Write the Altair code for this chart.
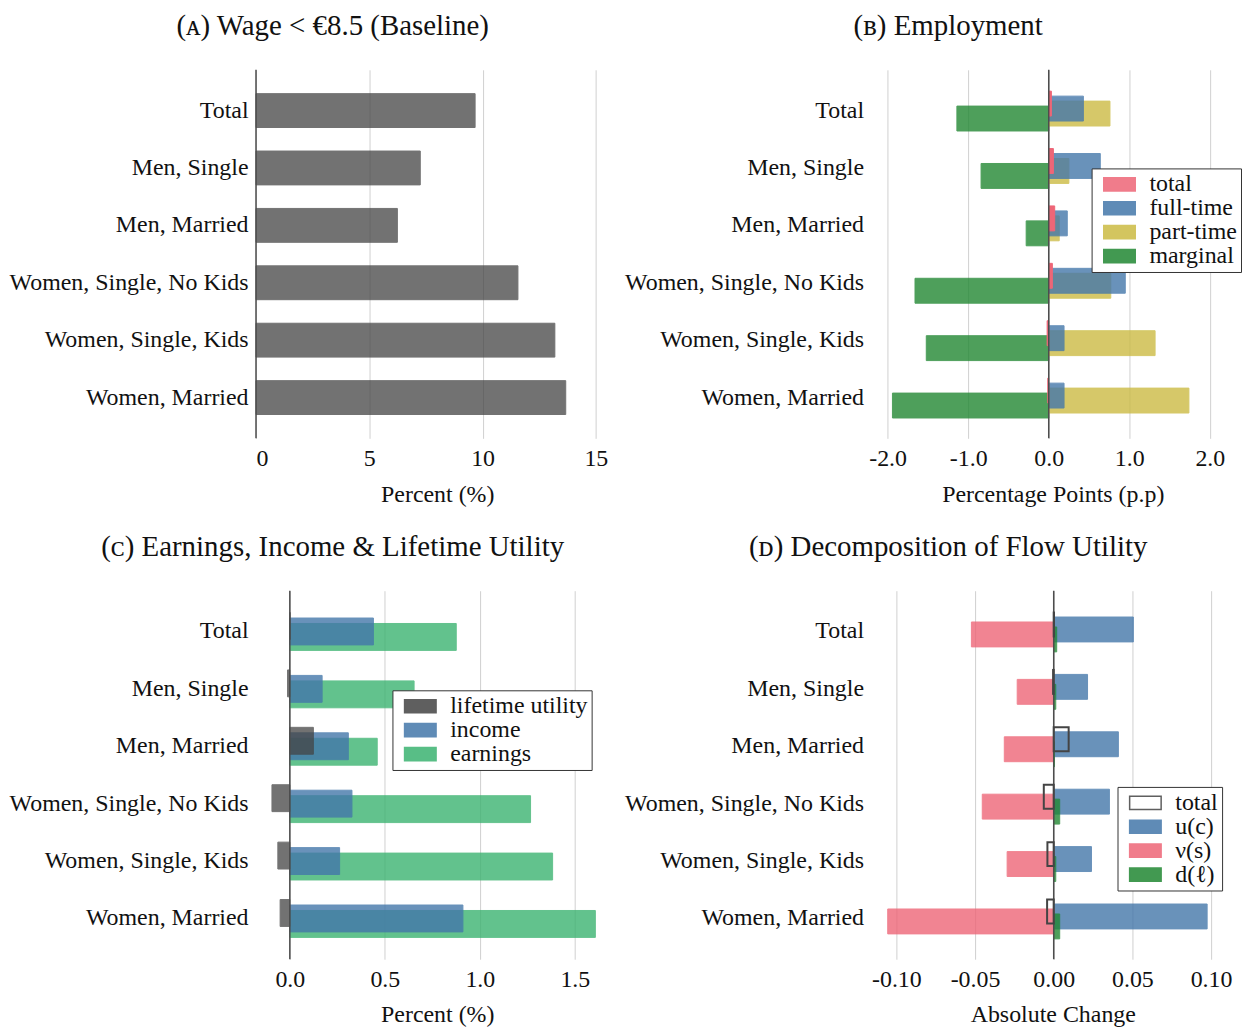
import altair as alt
import pandas as pd

FONT = "Liberation Serif"
TEXT = "#111111"

CATEGORIES = [
    "Total",
    "Men, Single",
    "Men, Married",
    "Women, Single, No Kids",
    "Women, Single, Kids",
    "Women, Married",
]

# (a) share of workers below 8.5 euro, percent
BASELINE_SHARE = [9.67, 7.25, 6.24, 11.56, 13.19, 13.67]

# (b) employment, percentage points
EMP_TOTAL = [0.033, 0.058, 0.074, 0.045, -0.02, -0.012]
EMP_FULL = [0.43, 0.64, 0.23, 0.95, 0.19, 0.19]
EMP_PART = [0.76, 0.25, 0.13, 0.77, 1.32, 1.74]
EMP_MARGINAL = [-1.14, -0.84, -0.28, -1.66, -1.52, -1.94]

# (c) earnings, income and lifetime utility, percent
LIFETIME_UTILITY = [0.002, -0.012, 0.124, -0.094, -0.063, -0.051]
INCOME = [0.44, 0.17, 0.308, 0.327, 0.262, 0.911]
EARNINGS = [0.876, 0.654, 0.46, 1.267, 1.383, 1.608]

# (d) decomposition of flow utility, absolute change
FLOW_TOTAL = [0.0002, -0.0004, 0.0095, -0.0063, -0.004, -0.0042]
FLOW_UC = [0.0506, 0.0215, 0.0411, 0.0354, 0.024, 0.0975]
FLOW_NUS = [-0.0523, -0.0232, -0.0314, -0.0454, -0.0296, -0.1055]
FLOW_DL = [0.0019, 0.0013, 0.0005, 0.0038, 0.0013, 0.0038]

GREY = "#444444"
RED = "#ee6677"
BLUE = "#4477aa"
YELLOW = "#ccbb44"
GREEN = "#228833"
SEA_GREEN = "#3cb371"

PLOT_W = 364
PLOT_H = 370
# wide swatch drawn outside the unit box so the legend rows stay tight
LEGEND_SYMBOL = "M-2,-0.84H2V0.84H-2Z"


def long_frame(series):
    rows = []
    for name, values in series.items():
        for group, value in zip(CATEGORIES, values):
            rows.append({"group": group, "series": name, "value": value})
    return pd.DataFrame(rows)


def panel(frame, layers, legend_order, domain, ticks, fmt, title, x_title,
          legend_xy=None, row_padding=0):
    """layers: (series, fill, stroke, opacity, y offset px, bar size px, stroke width), in draw order."""
    fills = {name: fill for name, fill, *_ in layers}
    strokes = {name: stroke for name, _f, stroke, *_ in layers}
    fill_scale = alt.Scale(domain=legend_order, range=[fills[s] for s in legend_order])
    stroke_scale = alt.Scale(domain=legend_order, range=[strokes[s] for s in legend_order])
    if legend_xy is None:
        legend = None
    else:
        legend = alt.Legend(
            title=None, orient="none", legendX=legend_xy[0], legendY=legend_xy[1],
            symbolType=LEGEND_SYMBOL, symbolSize=250, symbolStrokeWidth=1.5,
            symbolOffset=12,
            labelFont=FONT, labelFontSize=24, labelColor=TEXT, labelOffset=18,
            strokeColor="#333333", fillColor="white", padding=4,
            rowPadding=row_padding, cornerRadius=0, symbolOpacity=0.85,
        )
    label_expr = f"replace(format(datum.value, '{fmt}'), '\u2212', '-')"
    x = alt.X(
        "value:Q", title=x_title,
        scale=alt.Scale(domain=domain, nice=False, zero=False),
        axis=alt.Axis(values=ticks, labelExpr=label_expr, grid=True, ticks=False,
                      domain=False, labelPadding=8, titlePadding=12),
    )
    y = alt.Y(
        "group:N", sort=CATEGORIES, title=None,
        scale=alt.Scale(paddingInner=0, paddingOuter=0.21),
        axis=alt.Axis(domain=False, ticks=False, grid=False, labelPadding=8,
                      minExtent=246, maxExtent=246, labelLimit=400),
    )
    base = alt.Chart(frame)
    marks = []
    for name, _fill, _stroke, opacity, offset, size, stroke_width in layers:
        marks.append(
            base.transform_filter(alt.datum.series == name)
            .mark_bar(size=size, yOffset=offset, opacity=opacity, strokeWidth=stroke_width)
            .encode(
                x=x, y=y,
                fill=alt.Fill("series:N", scale=fill_scale, legend=legend),
                stroke=alt.Stroke("series:N", scale=stroke_scale, legend=legend),
            )
        )
    zero = (
        alt.Chart(pd.DataFrame({"value": [0.0]}))
        .mark_rule(color="#4d4d4d", strokeWidth=1.5)
        .encode(x="value:Q")
    )
    if layers[-1][1] == "transparent":
        chart_layers = marks[:-1] + [zero, marks[-1]]
    else:
        chart_layers = marks + [zero]
    return alt.layer(*chart_layers).properties(
        width=PLOT_W, height=PLOT_H,
        title=alt.TitleParams(title, font=FONT, fontSize=29, fontWeight="normal",
                              color=TEXT, anchor="middle", offset=28, dx=-105),
    )


panel_a = panel(
    long_frame({"baseline": BASELINE_SHARE}),
    [("baseline", GREY, GREY, 0.75, 0, 34, 1)],
    ["baseline"], [0, 16], [0, 5, 10, 15], "d",
    "(\u1d00) Wage < \u20ac8.5 (Baseline)", "Percent (%)",
)

panel_b = panel(
    long_frame({"total": EMP_TOTAL, "full-time": EMP_FULL,
                "part-time": EMP_PART, "marginal": EMP_MARGINAL}),
    [
        ("marginal", GREEN, GREEN, 0.8, 8, 25, 1),
        ("part-time", YELLOW, YELLOW, 0.8, 3, 25, 1),
        ("full-time", BLUE, BLUE, 0.8, -2, 25, 1),
        ("total", RED, RED, 1.0, -7, 25, 1),
    ],
    ["total", "full-time", "part-time", "marginal"],
    [-2.2, 2.3], [-2, -1, 0, 1, 2], ".1f",
    "(\u0299) Employment", "Percentage Points (p.p)",
    legend_xy=(221, 99), row_padding=-3.8,
)

panel_c = panel(
    long_frame({"lifetime utility": LIFETIME_UTILITY, "income": INCOME,
                "earnings": EARNINGS}),
    [
        ("earnings", SEA_GREEN, SEA_GREEN, 0.8, 5.5, 27, 1),
        ("income", BLUE, BLUE, 0.8, 0, 27, 1),
        ("lifetime utility", GREY, GREY, 0.75, -5.5, 27, 1),
    ],
    ["lifetime utility", "income", "earnings"],
    [-0.178, 1.73], [0, 0.5, 1, 1.5], ".1f",
    "(\u1d04) Earnings, Income & Lifetime Utility", "Percent (%)",
    legend_xy=(137, 100), row_padding=-1.3,
)

panel_d = panel(
    long_frame({"total": FLOW_TOTAL, "u(c)": FLOW_UC,
                "\u03bd(s)": FLOW_NUS, "d(\u2113)": FLOW_DL}),
    [
        ("u(c)", BLUE, BLUE, 0.8, -2, 25, 1),
        ("\u03bd(s)", RED, RED, 0.8, 3, 25, 1),
        ("d(\u2113)", GREEN, GREEN, 0.8, 8, 25, 1),
        ("total", "transparent", "#444444", 1.0, -7, 24, 2),
    ],
    ["total", "u(c)", "\u03bd(s)", "d(\u2113)"],
    [-0.1158, 0.1146], [-0.1, -0.05, 0, 0.05, 0.1], ".2f",
    "(\u1d05) Decomposition of Flow Utility", "Absolute Change",
    legend_xy=(247, 197), row_padding=-3.1,
)

independent = dict(fill="independent", stroke="independent")
top = alt.hconcat(panel_a, panel_b, spacing=5).resolve_scale(**independent).resolve_legend(**independent)
bottom = alt.hconcat(panel_c, panel_d, spacing=5).resolve_scale(**independent).resolve_legend(**independent)

chart = (
    alt.vconcat(top, bottom, spacing=27)
    .resolve_scale(**independent)
    .resolve_legend(**independent)
    .properties(padding={"top": 2, "left": 0, "right": 0, "bottom": 0})
    .configure_view(stroke=None)
    .configure_axis(
        labelFont=FONT, labelFontSize=24, labelColor=TEXT,
        titleFont=FONT, titleFontSize=24, titleColor=TEXT, titleFontWeight="normal",
        gridColor="#d0d0d0", gridWidth=1,
    )
)

chart.save("out.html", embed_options={"renderer": "svg", "actions": False})
